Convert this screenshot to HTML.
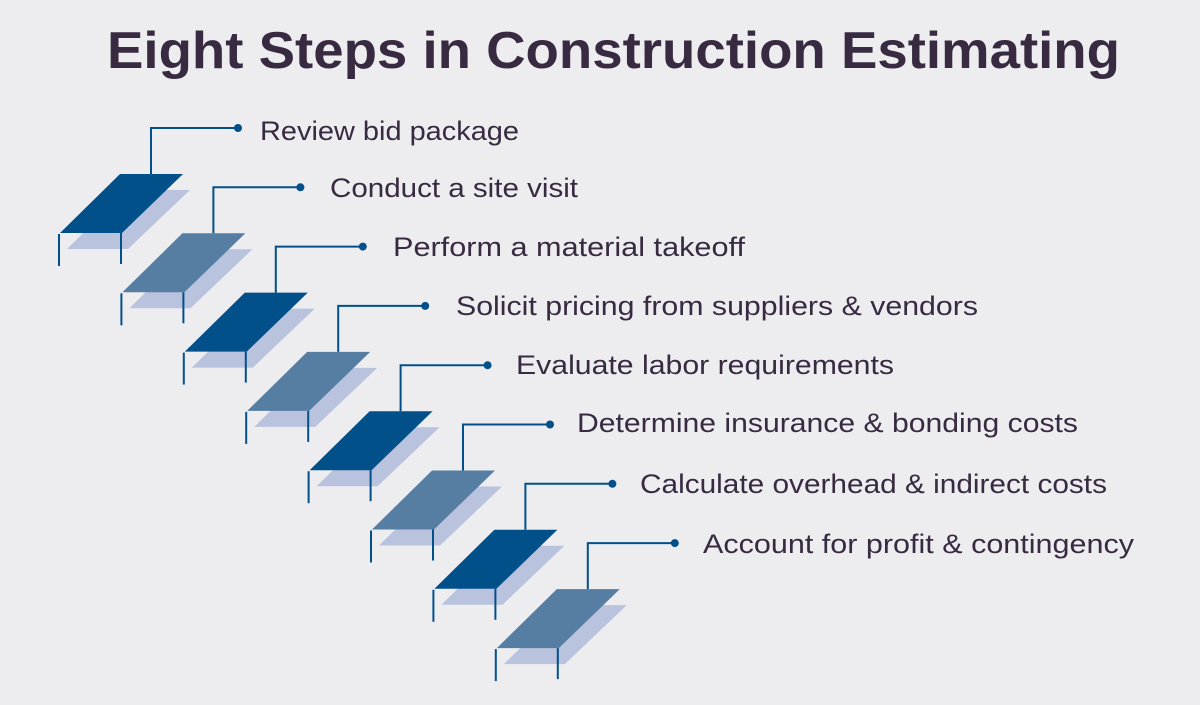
<!DOCTYPE html>
<html><head><style>html,body{margin:0;padding:0;background:#ededf0}</style></head>
<body>
<svg width="1200" height="700" viewBox="0 0 1200 700" xmlns="http://www.w3.org/2000/svg">
<rect width="1200" height="700" fill="#ededf0"/>
<text x="107" y="68" font-family="Liberation Sans, sans-serif" font-weight="bold" font-size="52" fill="#382a40" textLength="1013" lengthAdjust="spacingAndGlyphs">Eight Steps in Construction Estimating</text>
<g id="steps"></g>
</svg>
<script>
const labels=[["Review bid package",519,260,140],["Conduct a site visit",578,330,197],["Perform a material takeoff",745,393,256],["Solicit pricing from suppliers & vendors",978,456,315],["Evaluate labor requirements",894,516,374],["Determine insurance & bonding costs",1078,577,432],["Calculate overhead & indirect costs",1107,640,493],["Account for profit & contingency",1134,703,553]];
let s='';
for(let i=0;i<8;i++){
 const dx=i*62.4, dy=i*59.3;
 const tx=120+dx, ty=174+dy;
 const col=i%2?'#567ea3':'#02508a';
 s+=`<polygon points="${tx+7},${ty+16} ${tx+70},${ty+16} ${tx+8},${ty+75} ${tx-53},${ty+75}" fill="#b9c3de"/>`;
 s+=`<polygon points="${tx},${ty} ${tx+63},${ty} ${tx+2},${ty+59} ${tx-60},${ty+59}" fill="${col}"/>`;
 s+=`<line x1="${tx-61}" y1="${ty+60}" x2="${tx-61}" y2="${ty+92}" stroke="#02508a" stroke-width="2"/>`;
 s+=`<line x1="${tx+1}" y1="${ty+59}" x2="${tx+1}" y2="${ty+90}" stroke="#02508a" stroke-width="2"/>`;
 const cx=tx+31, cy=128+dy, dxp=238+dx;
 s+=`<polyline points="${cx},${ty} ${cx},${cy} ${dxp},${cy}" fill="none" stroke="#02508a" stroke-width="2"/>`;
 s+=`<circle cx="${dxp}" cy="${cy}" r="4" fill="#02508a"/>`;
 const lx=labels[i][2];
 s+=`<text x="${lx}" y="${labels[i][3]}" font-family="Liberation Sans, sans-serif" font-size="27" fill="#382a40" textLength="${labels[i][1]-lx}" lengthAdjust="spacingAndGlyphs">${labels[i][0].replace('&','&amp;')}</text>`;
}
document.getElementById('steps').innerHTML=s;
</script>
</body></html>
